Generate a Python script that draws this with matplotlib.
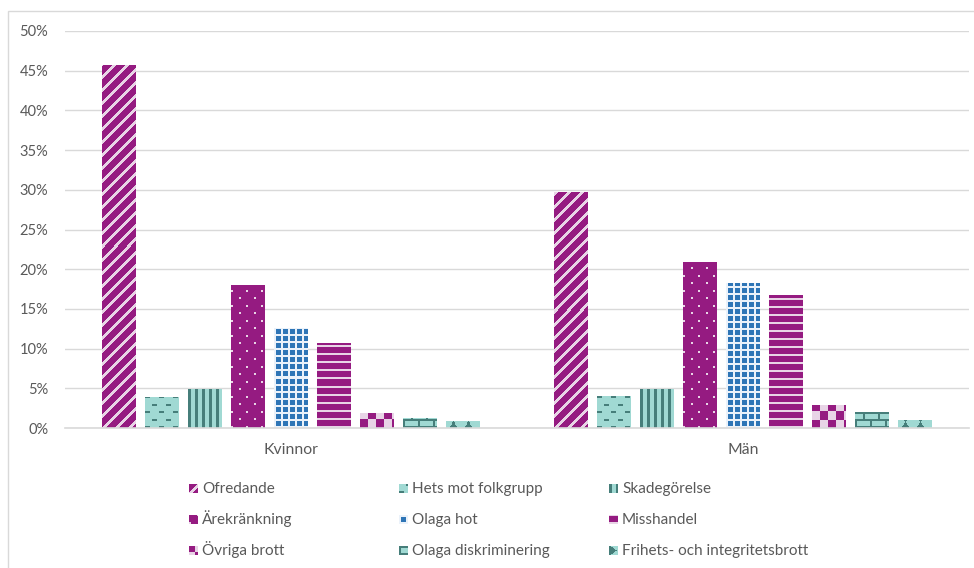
import numpy as np
import matplotlib
matplotlib.use("Agg")
import matplotlib.pyplot as plt
from matplotlib.patches import Rectangle


groups = ["Kvinnor", "Män"]
crimes = ["Ofredande", "Hets mot folkgrupp", "Skadegörelse",
          "Ärekränkning", "Olaga hot", "Misshandel",
          "Övriga brott", "Olaga diskriminering", "Frihets- och integritetsbrott"]
kvinnor = [45.6, 3.9, 4.8, 17.9, 12.5, 10.6, 1.8, 1.2, 0.8]
man = [29.6, 4.0, 4.9, 20.8, 18.2, 16.7, 2.8, 2.0, 1.0]
yticks = [0, 5, 10, 15, 20, 25, 30, 35, 40, 45, 50]

PURPLE = (149, 27, 129)
PINK = (232, 212, 230)
TEAL = (160, 217, 211)
DTEAL = (70, 126, 122)
BLUE = (46, 117, 182)
WHITE = (235, 242, 250)

# pattern kind, background, foreground
styles = [
    ("diag", PURPLE, PINK),
    ("dash", TEAL, DTEAL),
    ("vert", TEAL, DTEAL),
    ("dots", PURPLE, PINK),
    ("grid", BLUE, WHITE),
    ("hstripe", PURPLE, PINK),
    ("check", PURPLE, PINK),
    ("brick", TEAL, DTEAL),
    ("hourglass", TEAL, DTEAL),
]

GRAY = "#595959"
plt.rcParams["font.family"] = ["Lato", "DejaVu Sans"]


def pattern(kind, w, h, legend=False):
    # mask of foreground pixels, row 0 is the bottom
    yy, xx = np.mgrid[0:h, 0:w]
    if kind == "diag":
        return (xx - yy) % 13 < 4
    if kind == "dash":
        row = yy % 15
        return ((row < 2) & (xx % 14 < 5)) | ((row >= 7) & (row < 9) & ((xx + 7) % 14 < 5))
    if kind == "vert":
        return xx % 7 < 3
    if kind == "dots":
        return (((yy % 15) < 2) & ((xx % 15) < 2)) | ((((yy + 7) % 15) < 2) & (((xx + 7) % 15) < 2))
    if kind == "grid":
        return (xx % 7 < 2) | (yy % 7 < 2)
    if kind == "hstripe":
        return yy % 8 < 2
    if kind == "check":
        if legend:
            return ((xx // 6) + ((yy + 3) // 6)) % 2 == 0
        return ((xx // 8) + (yy // 8)) % 2 == 1
    if kind == "brick":
        row = yy % 14
        return (yy % 7 < 2) | ((row < 7) & (xx % 15 < 2)) | ((row >= 7) & ((xx + 7) % 15 < 2))
    if kind == "hourglass":
        if legend:
            return xx < 1 + (h - np.abs(2 * yy - h + 1)) * 0.7
        u = np.abs(xx % 15 - 7)
        v = np.abs(yy % 12 - 5.5)
        return (u <= np.minimum(v * 0.7, 3.5)) | (u < 1)
    return np.zeros((h, w), bool)


def pattern_img(kind, bg, fg, w, h, legend=False):
    mask = pattern(kind, w, h, legend)
    return np.where(mask[..., None], np.array(fg), np.array(bg)) / 255.0


def fill_bar(ax, bar, kind, bg, fg):
    x0 = bar.get_x()
    x1 = x0 + bar.get_width()
    top = bar.get_height()
    p0 = ax.transData.transform((x0, 0))
    p1 = ax.transData.transform((x1, top))
    w = max(int(round(p1[0] - p0[0])), 1)
    h = max(int(round(p1[1] - p0[1])), 1)
    ax.imshow(pattern_img(kind, bg, fg, w, h), extent=(x0, x1, 0, top), origin="lower",
              interpolation="nearest", aspect="auto", zorder=3)


W, H = 974, 568
fig = plt.figure(figsize=(W / 100, H / 100), dpi=100)
ax = fig.add_axes([65 / W, 140 / H, 904 / W, 397 / H])
ax.set_xlim(-0.5, 1.5)
ax.set_ylim(0, 50)

x = np.arange(len(groups))
step = 43 / 452
width = 34 / 452
for i, name in enumerate(crimes):
    vals = [kvinnor[i], man[i]]
    kind, bg, fg = styles[i]
    bc = ax.bar(x + (i - 4) * step, vals, width, color=np.array(bg) / 255.0, lw=0,
                zorder=2, label=name)
    for b in bc:
        fill_bar(ax, b, kind, bg, fg)

ax.set_xlim(-0.5, 1.5)
ax.set_ylim(0, 50)
ax.set_yticks(yticks)
ax.set_yticklabels([f"{t}%" for t in yticks])
ax.set_xticks(x)
ax.set_xticklabels(groups)
ax.tick_params(length=0, colors=GRAY)
ax.tick_params(axis="y", pad=12, labelsize=10.5)
ax.tick_params(axis="x", pad=11, labelsize=11.3)
ax.yaxis.grid(True, color="#d9d9d9", lw=1)
ax.set_axisbelow(True)
for s in ["left", "right", "top"]:
    ax.spines[s].set_visible(False)
ax.spines["bottom"].set_color("#d9d9d9")
ax.spines["bottom"].set_linewidth(1.2)
ax.spines["bottom"].set_zorder(4)

# chart frame (only top and left edges are inside the picture)
fig.patches.append(Rectangle((7.5 / W, -1), 2, 2 - 10.5 / H, transform=fig.transFigure,
                             fill=False, ec="#d9d9d9", lw=1))

# legend: 3 x 3 grid filled row by row, swatch bottom on the text baseline
col_x = [189, 399, 609]
row_base = [493, 524, 555]
sw = 9
for i, name in enumerate(crimes):
    r, c = divmod(i, 3)
    kind, bg, fg = styles[i]
    fig.figimage(pattern_img(kind, bg, fg, sw, sw, legend=True),
                 xo=col_x[c], yo=H - row_base[r], origin="lower", zorder=5)
    fig.text((col_x[c] + sw + 4) / W, 1 - row_base[r] / H, name, ha="left",
             va="baseline", color=GRAY, fontsize=11)

fig.savefig("out.png", dpi=100)
